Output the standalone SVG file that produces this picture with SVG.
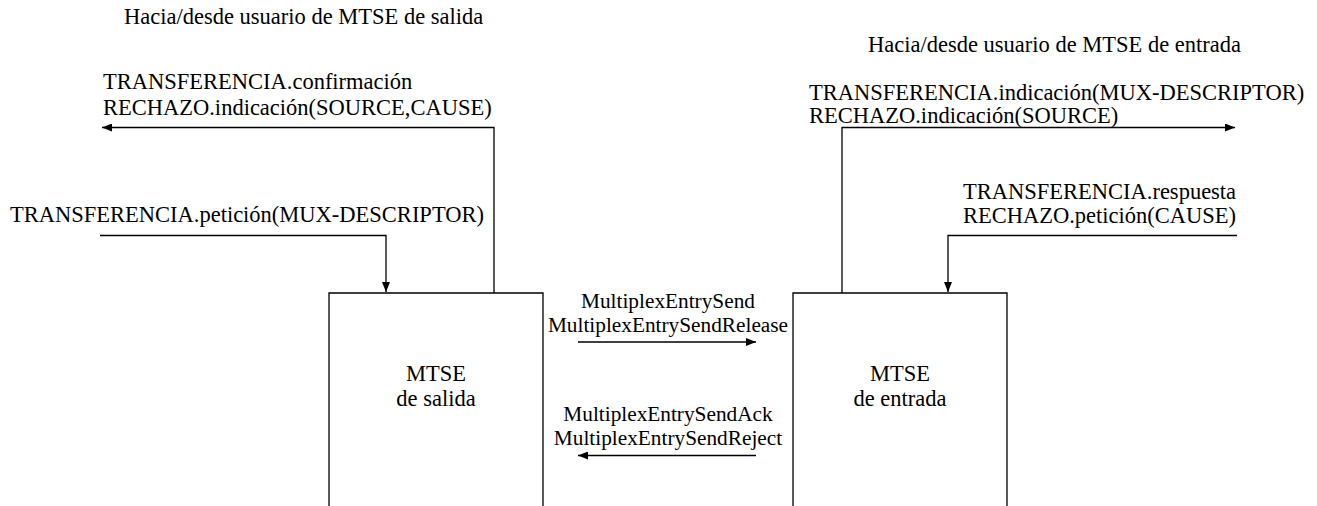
<svg xmlns="http://www.w3.org/2000/svg" width="1317" height="506" viewBox="0 0 1317 506" font-family="'Liberation Serif','Times New Roman','DejaVu Serif',serif">
<style>
text{font-family:'Liberation Serif','Times New Roman','DejaVu Serif',serif;font-size:22.5px;fill:#000}
.mid{text-anchor:middle}
.sm{font-size:21.3px}
.ln{fill:none;stroke:#000;stroke-width:1.3}
.box{fill:#fff;stroke:#000;stroke-width:1.3}
</style>
<defs>
<marker id="ah" markerUnits="userSpaceOnUse" markerWidth="10" markerHeight="8" viewBox="0 0 10 8" refX="10" refY="4" orient="auto">
<path d="M0,0 L10,4 L0,8 z" fill="#000"/>
</marker>
</defs>
<rect width="1317" height="506" fill="#fff"/>
<g id="labels-top">
<text x="124" y="24">Hacia/desde usuario de MTSE de salida</text>
<text x="868" y="52">Hacia/desde usuario de MTSE de entrada</text>
</g>
<g id="connectors">
<path class="ln" d="M494,293 V127.5 H102" marker-end="url(#ah)"/>
<path class="ln" d="M100,235.5 H386 V292" marker-end="url(#ah)"/>
<path class="ln" d="M842,293 V127.5 H1235" marker-end="url(#ah)"/>
<path class="ln" d="M1237,235.5 H948 V292" marker-end="url(#ah)"/>
<path class="ln" d="M578,342 H756" marker-end="url(#ah)"/>
<path class="ln" d="M756,455.5 H578" marker-end="url(#ah)"/>
</g>
<g id="connector-labels">
<text x="103" y="89">TRANSFERENCIA.confirmación</text>
<text x="103" y="115">RECHAZO.indicación(SOURCE,CAUSE)</text>
<text x="10" y="222">TRANSFERENCIA.petición(MUX-DESCRIPTOR)</text>
<text x="809" y="100">TRANSFERENCIA.indicación(MUX-DESCRIPTOR)</text>
<text x="809" y="123">RECHAZO.indicación(SOURCE)</text>
<text x="963" y="199">TRANSFERENCIA.respuesta</text>
<text x="963" y="223">RECHAZO.petición(CAUSE)</text>
<text class="mid sm" x="668" y="308">MultiplexEntrySend</text>
<text class="mid sm" x="668" y="332">MultiplexEntrySendRelease</text>
<text class="mid sm" x="668" y="421">MultiplexEntrySendAck</text>
<text class="mid sm" x="668" y="445">MultiplexEntrySendReject</text>
</g>
<g id="mtse-salida">
<path class="box" d="M329,507 V293 H543 V507"/>
<text class="mid" x="436" y="381">MTSE</text>
<text class="mid" x="436" y="406">de salida</text>
</g>
<g id="mtse-entrada">
<path class="box" d="M793,507 V293 H1007 V507"/>
<text class="mid" x="900" y="381">MTSE</text>
<text class="mid" x="900" y="406">de entrada</text>
</g>
</svg>
